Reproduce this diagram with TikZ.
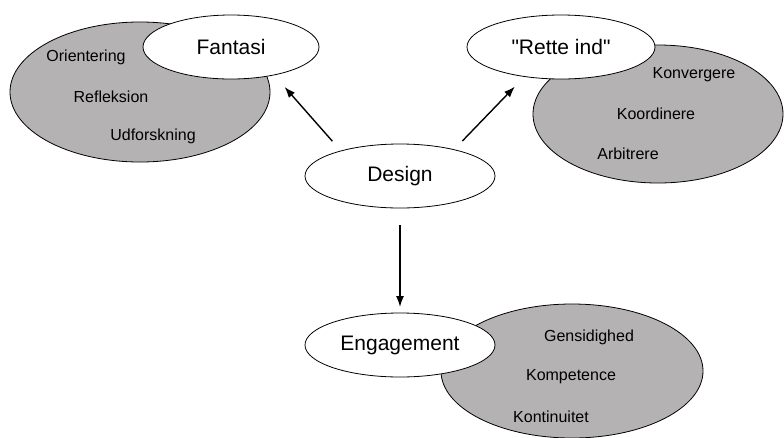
\documentclass[tikz,border=0pt]{standalone}
\usepackage{fontspec}
\setmainfont{Liberation Sans}
\usepackage{xcolor}
\usepackage{tikz}
\usetikzlibrary{arrows.meta,shapes.geometric}
\definecolor{bubblegray}{RGB}{181,178,179}
\tikzset{
	bubble/.style={
			ellipse,draw=black,line width=0.8pt,fill=bubblegray,
			inner sep=0pt,outer sep=0pt
		},
	word/.style={
			ellipse,draw=black,line width=0.8pt,fill=white,
			inner sep=0pt,outer sep=0pt,font=\fontsize{21}{25}\selectfont
		},
	item/.style={font=\fontsize{16}{19}\selectfont,inner sep=0pt},
	pointer/.style={line width=1.4pt,-{Latex[length=11pt,width=8pt]}}
}

\begin{document}
\begin{tikzpicture}[x=1pt,y=-1pt]
        \useasboundingbox (0,0) rectangle (784,437);
        \node[bubble,minimum width=260pt,minimum height=140pt] (fantasi_bg) at (140, 92) {};
        \node[bubble,minimum width=250pt,minimum height=138pt] (rette_bg) at (658, 114) {};
        \node[bubble,minimum width=262pt,minimum height=134pt] (engage_bg) at (572, 371) {};
        \node[item] (orient) at (86, 57) {Orientering};
        \node[item] (reflek) at (111, 97) {Refleksion};
        \node[item] (udfor) at (153, 136) {Udforskning};
        \node[item] (konver) at (694, 75) {Konvergere};
        \node[item] (koord) at (656, 114) {Koordinere};
        \node[item] (arbit) at (628, 154) {Arbitrere};
        \node[item] (gensid) at (589, 337) {Gensidighed};
        \node[item] (kompet) at (571, 377) {Kompetence};
        \node[item] (kontin) at (551, 417) {Kontinuitet};
        \node[word,minimum width=176pt,minimum height=64pt] (fantasi) at (231, 47) {Fantasi};
        \node[word,minimum width=188pt,minimum height=64pt] (rette) at (561, 47) {\textquotedbl Rette ind\textquotedbl};
        \node[word,minimum width=190pt,minimum height=64pt] (design) at (400, 176) {Design};
        \node[word,minimum width=190pt,minimum height=64pt] (engage) at (400, 345) {Engagement};
        \draw[pointer,shorten <=13pt,shorten >=16pt] (design.157) -- (fantasi.-33);
        \draw[pointer,shorten <=12pt,shorten >=14pt] (design.26) -- (rette.219);
        \draw[pointer,shorten <=17pt,shorten >=6pt] (design.south) -- (engage.north);
    \end{tikzpicture}
\end{document}
